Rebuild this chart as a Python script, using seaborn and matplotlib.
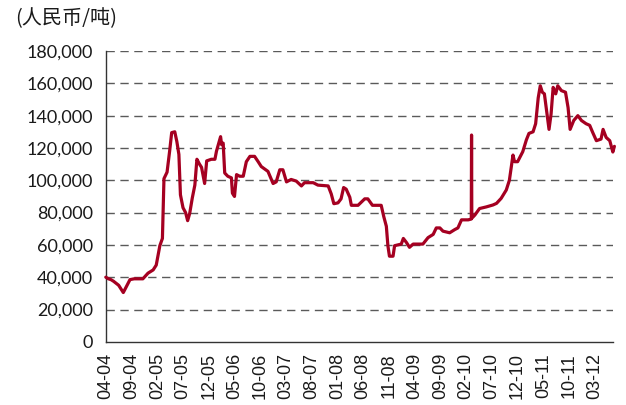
import matplotlib
matplotlib.use("Agg")
import matplotlib.pyplot as plt
from matplotlib import font_manager
from matplotlib.ticker import FuncFormatter
import seaborn as sns
import pandas as pd

# months since April 2004
months = [0, 0.5, 1.0, 1.5, 2.5, 3.0, 3.4, 3.8, 4.7, 5.5, 7.2, 8.2, 9.2, 9.8, 10.5, 11.0, 11.3, 11.9,
          12.4, 12.8, 13.4, 13.8, 14.2, 14.5, 15.0, 15.5, 15.9, 16.3, 16.8, 17.3, 17.7, 18.2, 18.6,
          19.2, 19.6, 20.5, 21.2, 21.5, 22.3, 22.5, 22.8, 23.1, 23.7, 24.4, 24.6, 25.0, 25.4, 26.0,
          26.7, 27.3, 28.0, 28.9, 29.6, 30.2, 31.5, 32.5, 33.1, 33.8, 34.4, 35.1, 36.0, 37.0, 38.0,
          38.6, 40.3, 41.2, 43.2, 43.8, 44.3, 45.1, 45.7, 46.2, 46.7, 47.4, 47.7, 49.0, 50.3, 50.9,
          51.8, 53.5, 54.0, 54.5, 54.8, 55.1, 55.8, 56.1, 57.4, 57.8, 58.4, 59.0, 59.7, 61.6, 62.6,
          63.6, 64.2, 64.9, 65.5, 66.8, 67.8, 68.4, 69.1, 70.4, 71.0, 71.05, 71.1, 71.7, 72.6, 73.9,
          75.2, 75.9, 76.8, 77.8, 78.4, 79.1, 79.4, 80.0, 81.0, 81.7, 82.2, 83.0, 83.5, 84.0, 84.4,
          84.8, 85.2, 85.7, 86.1, 86.5, 86.9, 87.4, 87.8, 88.5, 89.3, 89.8, 90.2, 90.9, 91.7, 92.4,
          93.3, 94.0, 94.6, 95.3, 96.2, 96.6, 97.2, 97.9, 98.5, 98.8]
prices = [40, 39, 38.5, 37.5, 35, 32.5, 30.5, 33, 38.5, 39, 39, 42.5, 44.5, 47.5, 59.5, 64, 101, 105,
          118, 129.5, 130, 124, 116, 91, 83, 80, 75, 79.5, 89, 97, 113, 110, 108,
          98, 112, 113, 113, 118, 127, 122, 123, 104.5, 102.5, 101.5, 92, 90, 103.5, 102.5,
          102.5, 111.5, 114.8, 114.8, 111.5, 108.5, 105.5, 98, 99, 106.5, 106.5, 99, 100.5, 99.5, 96.5,
          98.5, 98.5, 97, 96.5, 91.5, 85.5, 86, 88.5, 95.5, 94.5, 89.5, 84.5, 84.5, 88.5, 88.5,
          84.5, 84.5, 77.5, 71.5, 59.5, 53, 53, 59.5, 60.5, 64, 61.5, 58.5, 60.5, 60.5, 64.5,
          66.5, 70.5, 70.5, 68.5, 67.5, 69.5, 70.5, 75.5, 75.5, 76, 128, 76.5, 78.5, 82.5, 83.5,
          84.7, 85.7, 88.8, 94, 100, 115.6, 111.5, 111.5, 117.7, 125, 129, 130, 135, 151, 158.5,
          154.5, 153.5, 141, 131.5, 141, 157.5, 153.5, 158.5, 155.5, 154.5, 145, 131.5, 137, 140, 137,
          135, 134, 129.5, 124.5, 125.5, 131.5, 126.5, 124.5, 117.5, 121]
prices_yuan = [p * 1000 for p in prices]

tick_months = list(range(0, 96, 5))
tick_labels = ["04-04", "09-04", "02-05", "07-05", "12-05", "05-06", "10-06", "03-07", "08-07",
               "01-08", "06-08", "11-08", "04-09", "09-09", "02-10", "07-10", "12-10", "05-11",
               "10-11", "03-12"]
y_ticks = list(range(0, 180001, 20000))
unit_label = "(人民币/吨)"

sns.set_style("white")
plt.rcParams["font.family"] = ["Lato", "DejaVu Sans"]

names = {f.name for f in font_manager.fontManager.ttflist}
xfont = "Liberation Sans Narrow" if "Liberation Sans Narrow" in names else "Liberation Sans"
xsize = 16 if xfont == "Liberation Sans Narrow" else 13

df = pd.DataFrame({"month": months, "price": prices_yuan})

fig = plt.figure(figsize=(6.26, 4.05), dpi=100)
ax = fig.add_axes([0.169, 0.156, 0.81, 0.718])

ax.set_ylim(0, 180000)
ax.set_xlim(0, 98.5)
for y in y_ticks[1:]:
    ax.axhline(y, color="#5a5a5a", lw=1.0, ls=(0, (6, 4)), zorder=1)

sns.lineplot(data=df, x="month", y="price", ax=ax, color="#A50021", lw=2.3,
             estimator=None, sort=False, zorder=3, clip_on=False)

ax.set_yticks(y_ticks)
ax.yaxis.set_major_formatter(FuncFormatter(lambda v, p: f"{int(v):,}"))
ax.set_xticks(tick_months)
ax.set_xticklabels(tick_labels, rotation=90, fontsize=xsize, family=[xfont, "DejaVu Sans"], color="#1a1a1a")
for lab in ax.get_yticklabels():
    lab.set_fontsize(13)
    lab.set_color("#1a1a1a")

ax.tick_params(axis="y", direction="inout", length=10, width=1, color="#333333", pad=4)
ax.tick_params(axis="x", direction="out", length=6, width=1, color="#333333", pad=2)
ax.set_xlabel("")
ax.set_ylabel("")

for s in ["top", "right"]:
    ax.spines[s].set_visible(False)
for s in ["left", "bottom"]:
    ax.spines[s].set_color("#333333")
    ax.spines[s].set_linewidth(1)

fig.text(0.024, 0.953, unit_label, fontsize=14.5, family=["Noto Sans CJK SC", "DejaVu Sans"],
         color="#1a1a1a", va="center", ha="left")

fig.savefig("out.png", dpi=100)
